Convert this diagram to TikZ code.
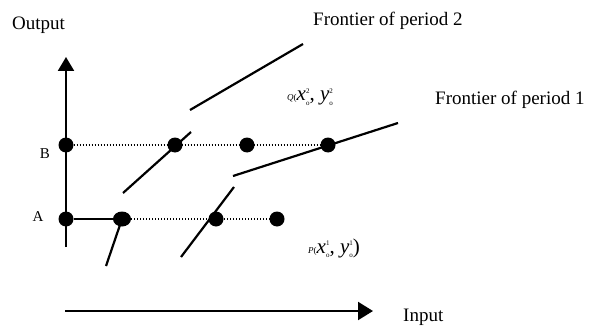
\documentclass[tikz,border=0pt]{standalone}
\usepackage{fontspec}
\setmainfont{Liberation Serif}
\usetikzlibrary{arrows.meta,shapes.geometric}
\newcommand{\supsub}[3]{\textit{#1}\makebox[0pt][l]{\raisebox{0.8ex}{\fontsize{7}{7}\selectfont #2}}\raisebox{-0.45ex}{\fontsize{7}{7}\selectfont #3}}
\tikzset{
  dotnode/.style={circle,fill=black,inner sep=0pt,minimum size=15pt},
  thick line/.style={line width=2.2pt},
  dotline/.style={line width=1.1pt,dash pattern=on 1.2pt off 1.8pt},
  bigtext/.style={font=\fontsize{19}{19}\selectfont,inner sep=0pt,anchor=base west},
  axislabel/.style={font=\fontsize{15}{15}\selectfont,inner sep=0pt},
}
\begin{document}
\begin{tikzpicture}[x=1pt,y=-1pt]
\useasboundingbox (0,0) rectangle (596,326);
% axes
\coordinate (ybot) at (66,247);
\coordinate (ytop) at (66,57);
\coordinate (xl) at (65,311);
\coordinate (xr) at (373,311);
\draw[thick line,-{Triangle[length=14pt,width=16pt]}] (ybot) -- (ytop);
\draw[thick line,-{Triangle[length=15pt,width=18pt]}] (xl) -- (xr);
% dots
\node[dotnode] (B0) at (66,145) {};
\node[dotnode] (B1) at (175,145) {};
\node[dotnode] (B2) at (247,145) {};
\node[dotnode] (B3) at (328,145) {};
\node[dotnode] (A0) at (66,219) {};
\node[ellipse,fill=black,inner sep=0pt,minimum width=18pt,minimum height=15pt] (A1) at (122,219) {};
\node[dotnode] (A2) at (216,219) {};
\node[dotnode] (A3) at (277,219) {};
% level lines
\draw[dotline] (B0) -- (B3);
\draw[dotline] (A1) -- (A3);
\draw[thick line] (A0) -- (A1);
% frontier segments
\coordinate (f2a) at (123,193);
\coordinate (f2b) at (191,132);
\coordinate (f2c) at (190,110);
\coordinate (f2d) at (303,44);
\draw[thick line] (f2a) -- (f2b);
\draw[thick line] (f2c) -- (f2d);
\coordinate (f1a) at (106,266);
\coordinate (f1c) at (181,257);
\coordinate (f1d) at (234,187);
\coordinate (f1e) at (233,176);
\coordinate (f1f) at (398,123);
\draw[thick line] (A1.center) -- (f1a);
\draw[thick line] (f1c) -- (f1d);
\draw[thick line] (f1e) -- (f1f);
% texts
\node[bigtext] (out) at (12,30) {Output};
\node[bigtext] (inp) at (403,321) {Input};
\node[bigtext] (fr2) at (313,26) {Frontier of period 2};
\node[bigtext] (fr1) at (435,104) {Frontier of period 1};
\node[axislabel] (lb) at (45,154) {B};
\node[axislabel] (la) at (38,217) {A};
\node[inner sep=0pt,anchor=base west] (q) at (287,101) {{\fontsize{9}{9}\selectfont\textit{Q}(}{\fontsize{21}{21}\selectfont\supsub{x}{2}{o}, \supsub{y}{2}{o}}};
\node[inner sep=0pt,anchor=base west] (p) at (308,253) {{\fontsize{9}{9}\selectfont\textit{P}(}{\fontsize{21}{21}\selectfont\supsub{x}{1}{o}, \supsub{y}{1}{o})}};
\end{tikzpicture}
\end{document}
